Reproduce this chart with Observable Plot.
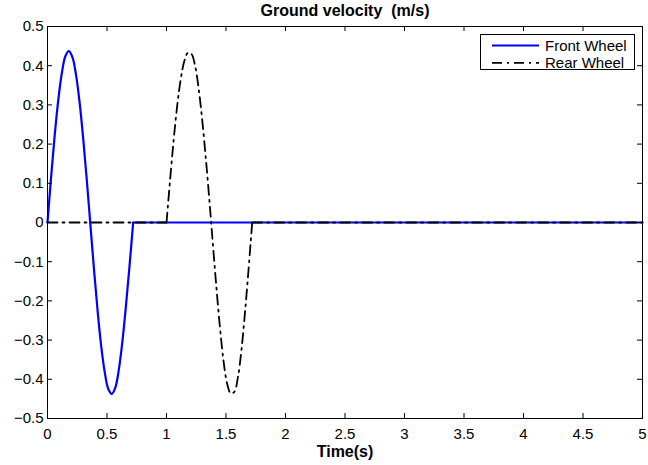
<!DOCTYPE html>
<html>
<head>
<meta charset="utf-8">
<script src="https://cdn.jsdelivr.net/npm/d3@7"></script>
<script src="https://cdn.jsdelivr.net/npm/@observablehq/plot@0.6"></script>
<style>
  body { margin: 0; background: #fff; }
  #wrap { position: relative; width: 648px; height: 465px; }
  svg text { white-space: pre; }
  #legend { position: absolute; left: 480px; top: 34px; }
</style>
</head>
<body>
<div id="wrap"></div>
<script>
// ---- data ----
const title = "Ground velocity  (m/s)";
const xLabel = "Time(s)";
const seriesNames = ["Front Wheel", "Rear Wheel"];

const frontTime = [0, 0.03, 0.06, 0.09, 0.12, 0.15, 0.18, 0.21, 0.24, 0.27, 0.30, 0.33, 0.36,
  0.39, 0.42, 0.45, 0.48, 0.51, 0.54, 0.57, 0.60, 0.63, 0.66, 0.69, 0.72, 5];
const frontVel = [0, 0.115, 0.221, 0.311, 0.380, 0.424, 0.437, 0.421, 0.376, 0.306, 0.214, 0.109, -0.004,
  -0.117, -0.222, -0.312, -0.380, -0.424, -0.437, -0.421, -0.374, -0.302, -0.210, -0.108, 0, 0];

const rearTime = [0, 1.00, 1.03, 1.06, 1.09, 1.12, 1.15, 1.18, 1.21, 1.24, 1.27, 1.30, 1.33, 1.36,
  1.39, 1.42, 1.45, 1.48, 1.51, 1.54, 1.57, 1.60, 1.63, 1.66, 1.69, 1.72, 5];
const rearVel = [0, 0, 0.108, 0.210, 0.298, 0.366, 0.412, 0.433, 0.430, 0.400, 0.342, 0.262, 0.165, 0.058,
  -0.056, -0.168, -0.270, -0.355, -0.412, -0.436, -0.432, -0.395, -0.325, -0.228, -0.118, 0, 0];

// time span of each pulse (where the wheel is over the bump)
const frontPulse = [0, 0.72];
const rearPulse = [1.00, 1.72];

const xTicks = [0, 0.5, 1, 1.5, 2, 2.5, 3, 3.5, 4, 4.5, 5];
const xTickLabels = ["0", "0.5", "1", "1.5", "2", "2.5", "3", "3.5", "4", "4.5", "5"];
const yTicks = [-0.5, -0.4, -0.3, -0.2, -0.1, 0, 0.1, 0.2, 0.3, 0.4, 0.5];
const yTickLabels = ["\u22120.5", "\u22120.4", "\u22120.3", "\u22120.2", "\u22120.1", "0", "0.1", "0.2", "0.3", "0.4", "0.5"];

// ---- styles ----
const colors = ["#0000ff", "#000000"];
const widths = [2.2, 1.8];
const dashes = [null, "10,5,2,5"];
const font = "'Liberation Sans', Arial, Helvetica, sans-serif";

const W = 648, H = 465;
const mL = 47, mR = 6, mT = 26, mB = 47;
const fw = W - mL - mR, fh = H - mT - mB;
const tickLen = 5;

const front = frontTime.map((t, i) => ({t, v: frontVel[i]}));
const rear = rearTime.map((t, i) => ({t, v: rearVel[i]}));

// each series: smooth pulse part + straight flat parts
function seriesMarks(data, pulse, i) {
  const opts = {x: "t", y: "v", stroke: colors[i], strokeWidth: widths[i], strokeDasharray: dashes[i]};
  return [
    Plot.lineY(data.filter(d => d.t <= pulse[0]), opts),
    Plot.lineY(data.filter(d => d.t >= pulse[0] && d.t <= pulse[1]), {...opts, curve: "catmull-rom"}),
    Plot.lineY(data.filter(d => d.t >= pulse[1]), opts)
  ];
}

const plot = Plot.plot({
  width: W, height: H,
  marginLeft: mL, marginRight: mR, marginTop: mT, marginBottom: mB,
  style: {fontFamily: font, fontSize: "15px", color: "black", background: "white"},
  x: {domain: [0, 5]},
  y: {domain: [-0.5, 0.5]},
  marks: [
    ...seriesMarks(front, frontPulse, 0),
    ...seriesMarks(rear, rearPulse, 1),
    Plot.frame({stroke: "black", strokeWidth: 1}),
    Plot.tickX(xTicks, {x: d => d, insetTop: fh - tickLen, stroke: "black"}),
    Plot.tickX(xTicks, {x: d => d, insetBottom: fh - tickLen, stroke: "black"}),
    Plot.tickY(yTicks, {y: d => d, insetRight: fw - tickLen, stroke: "black"}),
    Plot.tickY(yTicks, {y: d => d, insetLeft: fw - tickLen, stroke: "black"}),
    Plot.axisX({ticks: xTicks, tickSize: 0, tickPadding: 10, label: null, fontSize: 15,
      tickFormat: d => xTickLabels[xTicks.indexOf(d)]}),
    Plot.axisY({ticks: yTicks, tickSize: 0, tickPadding: 4, label: null, fontSize: 15,
      tickFormat: d => yTickLabels[yTicks.findIndex(v => Math.abs(v - d) < 1e-9)]}),
    Plot.text([title], {text: d => d, frameAnchor: "top", lineAnchor: "middle", dy: -16,
      fontSize: 16, fontWeight: "bold", fill: "black"}),
    Plot.text([xLabel], {text: d => d, frameAnchor: "bottom", lineAnchor: "middle", dy: 33,
      fontSize: 16, fontWeight: "bold", fill: "black"})
  ]
});
document.getElementById("wrap").appendChild(plot);

// ---- legend (HTML overlay) ----
const lg = d3.select("#wrap").append("svg").attr("id", "legend")
  .attr("width", 156).attr("height", 37);
lg.append("rect").attr("x", 0.5).attr("y", 0.5).attr("width", 154).attr("height", 35)
  .attr("fill", "white").attr("stroke", "black");
seriesNames.forEach((name, i) => {
  const cy = 11.5 + i * 17.4;
  lg.append("line").attr("x1", 12).attr("x2", 59).attr("y1", cy).attr("y2", cy)
    .attr("stroke", colors[i]).attr("stroke-width", widths[i])
    .attr("stroke-dasharray", dashes[i]);
  lg.append("text").attr("x", 65).attr("y", cy).attr("dy", "0.35em")
    .attr("font-family", font).attr("font-size", 15).text(name);
});
</script>
</body>
</html>
